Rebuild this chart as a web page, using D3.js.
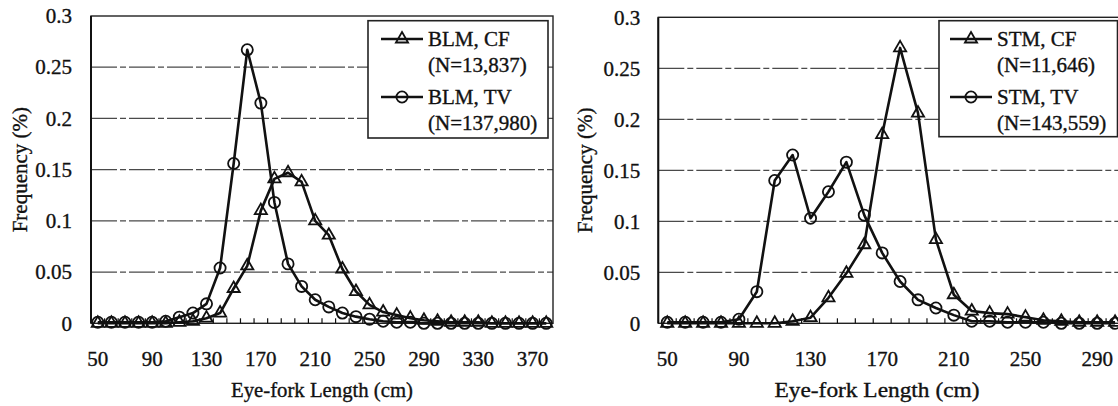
<!DOCTYPE html>
<html>
<head>
<meta charset="utf-8">
<script src="https://cdn.jsdelivr.net/npm/d3@7"></script>
<style>
  html, body { margin: 0; padding: 0; background: #fff; }
  svg { display: block; }
  svg text { font-family: 'Liberation Serif', 'DejaVu Serif', serif !important; fill: #111; stroke: #111; stroke-width: 0.35px; }
</style>
</head>
<body>
<svg id="chart" width="1118" height="406" font-family="Liberation Serif, DejaVu Serif, serif"></svg>
<script>
// Eye-fork length classes (cm)
const blmLengths = [50, 60, 70, 80, 90, 100, 110, 120, 130, 140, 150, 160, 170, 180, 190, 200, 210,
  220, 230, 240, 250, 260, 270, 280, 290, 300, 310, 320, 330, 340, 350, 360, 370, 380];
const stmLengths = [50, 60, 70, 80, 90, 100, 110, 120, 130, 140, 150, 160, 170, 180, 190, 200, 210,
  220, 230, 240, 250, 260, 270, 280, 290, 300];

// Frequency (%) by length class
const blmCF = [0, 0, 0, 0, 0, 0, 0.001, 0.002, 0.005, 0.010, 0.034, 0.056, 0.110, 0.141, 0.147, 0.138, 0.100,
  0.086, 0.053, 0.031, 0.018, 0.011, 0.008, 0.005, 0.003, 0.002, 0.001, 0.001, 0.001, 0, 0, 0, 0, 0];
const blmTV = [0.001, 0.001, 0.001, 0.001, 0.001, 0.002, 0.006, 0.010, 0.019, 0.054, 0.156, 0.267, 0.215, 0.118,
  0.058, 0.036, 0.023, 0.016, 0.010, 0.0065, 0.004, 0.002, 0.001, 0.001, 0, 0, 0, 0, 0, 0, 0, 0, 0, 0];
const stmCF = [0, 0, 0, 0, 0, 0, 0, 0.002, 0.0055, 0.025, 0.049, 0.077, 0.185, 0.270, 0.206, 0.082, 0.028,
  0.012, 0.010, 0.009, 0.006, 0.003, 0.002, 0.001, 0.001, 0.001];
const stmTV = [0.001, 0.001, 0.001, 0.001, 0.004, 0.031, 0.140, 0.165, 0.103, 0.129, 0.158, 0.106, 0.069, 0.041,
  0.023, 0.015, 0.008, 0.002, 0.002, 0.001, 0.001, 0.001, 0, 0, 0, 0];

// Axis labels
const blmTickLabels = [50, 90, 130, 170, 210, 250, 290, 330, 370];
const stmTickLabels = [50, 90, 130, 170, 210, 250, 290];
const yTickValues = [0, 0.05, 0.1, 0.15, 0.2, 0.25, 0.3];
const yTickText = ["0", "0.05", "0.1", "0.15", "0.2", "0.25", "0.3"];

// Legend entries
const blmLegend = [
  { name: "BLM, CF", count: "(N=13,837)", symbol: "triangle" },
  { name: "BLM, TV", count: "(N=137,980)", symbol: "circle" }
];
const stmLegend = [
  { name: "STM, CF", count: "(N=11,646)", symbol: "triangle" },
  { name: "STM, TV", count: "(N=143,559)", symbol: "circle" }
];

const svg = d3.select("#chart");
const FONT = 21;
const SERIF = "Liberation Serif, DejaVu Serif, serif";

const symbolPath = {
  triangle: d3.symbol(d3.symbolTriangle, 64)(),
  circle: d3.symbol(d3.symbolCircle, 98)()
};

function drawPanel(cfg) {
  const g = svg.append("g").attr("font-family", SERIF);
  const x = d3.scaleBand().domain(cfg.lengths).range([cfg.left, cfg.right]).padding(0);
  const y = d3.scaleLinear().domain([0, 0.3]).range([cfg.bottom, cfg.top]);
  const cx = d => x(d) + x.bandwidth() / 2;

  // horizontal gridlines
  g.append("g").selectAll("line")
    .data(yTickValues.filter(v => v > 0 && v < 0.3))
    .join("line")
    .attr("x1", cfg.left).attr("x2", cfg.right)
    .attr("y1", d => y(d)).attr("y2", d => y(d))
    .attr("stroke", "#4a4a4a").attr("stroke-width", 1.3)
    .attr("stroke-dasharray", "26,3,6,3");

  // plot frame
  g.append("rect")
    .attr("x", cfg.left).attr("y", y(0.3))
    .attr("width", cfg.right - cfg.left).attr("height", y(0) - y(0.3))
    .attr("fill", "none").attr("stroke", "#222").attr("stroke-width", 1.4);
  g.append("line")
    .attr("x1", cfg.left).attr("x2", cfg.left)
    .attr("y1", y(0.3)).attr("y2", y(0))
    .attr("stroke", "#111").attr("stroke-width", 2);

  // inward tick marks on the category axis
  g.append("g").selectAll("line")
    .data(cfg.lengths.slice(1))
    .join("line")
    .attr("x1", d => x(d)).attr("x2", d => x(d))
    .attr("y1", y(0)).attr("y2", y(0) - 5)
    .attr("stroke", "#111").attr("stroke-width", 1.2);

  // y axis labels
  const yAxis = d3.axisLeft(y).tickValues(yTickValues)
    .tickFormat((d, i) => yTickText[i]).tickSize(0).tickPadding(cfg.yPad);
  const ya = g.append("g").attr("transform", `translate(${cfg.left},0)`).call(yAxis)
    .attr("font-family", SERIF).attr("font-size", FONT);
  ya.select(".domain").remove();
  ya.selectAll("text").attr("fill", "#111");

  // x axis labels
  const xAxis = d3.axisBottom(x).tickValues(cfg.tickLabels).tickSize(0).tickPadding(0);
  const xa = g.append("g").attr("transform", `translate(0,${cfg.bottom})`).call(xAxis)
    .attr("font-family", SERIF).attr("font-size", FONT);
  xa.select(".domain").remove();
  xa.selectAll("text").attr("fill", "#111").attr("y", 35).attr("dy", "0.35em");

  // axis titles
  g.append("text")
    .attr("transform", `translate(${cfg.yTitleX},${(y(0) + y(0.3)) / 2}) rotate(-90)`)
    .attr("text-anchor", "middle").attr("dy", "0.35em")
    .attr("font-size", FONT).text("Frequency (%)");
  g.append("text")
    .attr("x", cfg.xTitleX).attr("y", 390).attr("dy", "0.35em")
    .attr("text-anchor", "middle").attr("font-size", FONT)
    .attr("textLength", cfg.xTitleLen).attr("lengthAdjust", "spacingAndGlyphs")
    .text("Eye-fork Length (cm)");

  // series
  const line = d3.line().x(d => cx(d[0])).y(d => y(d[1]));
  cfg.series.forEach(s => {
    const pts = cfg.lengths.map((l, i) => [l, s.values[i]]);
    g.append("path").datum(pts)
      .attr("d", line).attr("fill", "none")
      .attr("stroke", "#111").attr("stroke-width", 2.6).attr("stroke-linejoin", "round");
    g.append("g").selectAll("path")
      .data(pts).join("path")
      .attr("transform", d => `translate(${cx(d[0])},${y(d[1])})`)
      .attr("d", symbolPath[s.symbol])
      .attr("fill", "none").attr("stroke", "#111").attr("stroke-width", 1.8);
  });

  // legend
  const L = cfg.legend;
  const lg = g.append("g");
  lg.append("rect").attr("x", L.x).attr("y", L.y).attr("width", L.w).attr("height", L.h)
    .attr("fill", "#fff").attr("stroke", "#222").attr("stroke-width", 1.6);
  cfg.legendItems.forEach((item, i) => {
    const rowY = L.rows[i * 2];
    lg.append("line").attr("x1", L.lineX0).attr("x2", L.lineX1)
      .attr("y1", rowY).attr("y2", rowY)
      .attr("stroke", "#111").attr("stroke-width", 2.6);
    lg.append("path")
      .attr("transform", `translate(${(L.lineX0 + L.lineX1) / 2},${rowY})`)
      .attr("d", symbolPath[item.symbol])
      .attr("fill", "none").attr("stroke", "#111").attr("stroke-width", 1.8);
    lg.append("text").attr("x", L.textX).attr("y", rowY).attr("dy", "0.35em")
      .attr("font-size", FONT).text(item.name);
    lg.append("text").attr("x", L.textX).attr("y", L.rows[i * 2 + 1]).attr("dy", "0.35em")
      .attr("font-size", FONT).text(item.count);
  });
}

drawPanel({
  lengths: blmLengths, tickLabels: blmTickLabels,
  left: 91, right: 553, top: 16, bottom: 323.3, yPad: 19,
  yTitleX: 19.5, xTitleX: 322, xTitleLen: 182,
  series: [{ values: blmCF, symbol: "triangle" }, { values: blmTV, symbol: "circle" }],
  legendItems: blmLegend,
  legend: { x: 368, y: 20.7, w: 180, h: 117.3, lineX0: 381, lineX1: 423, textX: 428, rows: [39, 65, 97, 123] }
});

drawPanel({
  lengths: stmLengths, tickLabels: stmTickLabels,
  left: 658.3, right: 1124, top: 17.3, bottom: 323.3, yPad: 18,
  yTitleX: 585, xTitleX: 877, xTitleLen: 205,
  series: [{ values: stmCF, symbol: "triangle" }, { values: stmTV, symbol: "circle" }],
  legendItems: stmLegend,
  legend: { x: 939, y: 20.7, w: 178.5, h: 116, lineX0: 950, lineX1: 992, textX: 997, rows: [39, 65, 97, 123] }
});
</script>
</body>
</html>
